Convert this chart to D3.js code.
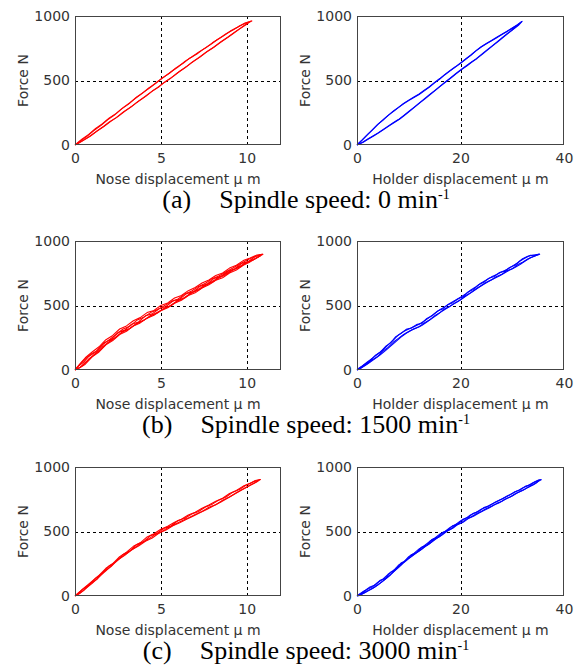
<!DOCTYPE html>
<html><head><meta charset="utf-8">
<script src="https://cdn.jsdelivr.net/npm/d3@7"></script>
<style>html,body{margin:0;padding:0;background:#fff;}svg{display:block;}</style>
</head><body><svg id="chart" width="579" height="670"></svg>
<script>
// ---- DATA ----
const noseTicks = [0, 5, 10];
const noseGrid = [5, 10];
const noseDomain = [0, 12];
const holderTicks = [0, 20, 40];
const holderGrid = [20];
const holderDomain = [0, 40];
const forceTicks = [0, 500, 1000];
const forceGrid = [500];
const forceDomain = [0, 1000];
const captionLabels = ["(a)", "(b)", "(c)"];
const captionSpeeds = ["0", "1500", "3000"];
const noseLabel = "Nose displacement \u03bc m";
const holderLabel = "Holder displacement \u03bc m";
const forceLabel = "Force N";

// Nose, 0 min-1 (two load/unload cycles) [displacement um, force N]
const noseA = [
 [[0,0],[0.3,30],[0.7,68],[1.1,112],[1.5,150],[1.9,196],[2.3,232],[2.7,278],[3.1,315],[3.5,360],[3.9,398],[4.3,442],[4.7,478],[5.1,522],[5.5,556],[5.9,600],[6.3,634],[6.7,675],[7.1,705],[7.5,745],[7.9,778],[8.3,818],[8.7,850],[9.1,888],[9.5,915],[9.9,945],[10.3,962],
  [10.1,950],[9.7,912],[9.3,875],[8.9,835],[8.5,800],[8.1,760],[7.7,725],[7.3,683],[6.9,648],[6.5,608],[6.1,572],[5.7,530],[5.3,495],[4.9,452],[4.5,418],[4.1,375],[3.7,340],[3.3,298],[2.9,262],[2.5,220],[2.1,185],[1.7,145],[1.3,110],[0.9,70],[0.5,38],[0.1,5]],
 [[0,0],[0.4,45],[0.8,82],[1.2,128],[1.6,165],[2.0,210],[2.4,245],[2.8,290],[3.2,328],[3.6,372],[4.0,410],[4.4,448],[4.8,490],[5.2,528],[5.6,568],[6.0,605],[6.4,648],[6.8,682],[7.2,720],[7.6,752],[8.0,792],[8.4,825],[8.8,862],[9.2,892],[9.6,925],[10.0,948],[10.25,960],
  [10.0,936],[9.6,900],[9.2,862],[8.8,826],[8.4,788],[8.0,750],[7.6,716],[7.2,676],[6.8,640],[6.4,598],[6.0,562],[5.6,520],[5.2,485],[4.8,445],[4.4,408],[4.0,368],[3.6,330],[3.2,290],[2.8,255],[2.4,212],[2.0,178],[1.6,138],[1.2,100],[0.8,62],[0.4,28],[0,0]]
];
// Holder, 0 min-1
const holderA = [
 [[0,0],[1,40],[2,80],[3,118],[4,158],[5,195],[6,228],[7,262],[8,292],[9,320],[10,345],[11,368],[12,392],[13,420],[14,450],[15,482],[16,512],[17,545],[18,575],[19,604],[20,633],[21,665],[22,695],[23,730],[24,760],[25,785],[26,808],[27,832],[28,856],[29,880],[30,905],[31,930],[31.8,957],
  [31,925],[30,893],[29,862],[28,830],[27,798],[26,765],[25,733],[24,700],[23,668],[22,640],[21,610],[20,581],[19,550],[18,518],[17,487],[16,455],[15,422],[14,390],[13,357],[12,325],[11,292],[10,260],[9,228],[8,197],[7,172],[6,145],[5,118],[4,92],[3,68],[2,44],[1,20],[0,0]],
 [[0,2],[1,38],[2,78],[3,120],[4,160],[5,192],[6,230],[7,260],[8,290],[9,322],[10,348],[11,372],[12,395],[13,424],[14,452],[15,485],[16,515],[17,547],[18,578],[19,606],[20,636],[21,667],[22,698],[23,732],[24,762],[25,787],[26,810],[27,835],[28,858],[29,882],[30,907],[31,932],[31.9,958],
  [31.2,928],[30.2,896],[29.2,865],[28.2,833],[27.2,800],[26.2,768],[25.2,736],[24.2,703],[23.2,671],[22.2,643],[21.2,612],[20.2,584],[19.2,553],[18.2,521],[17.2,490],[16.2,458],[15.2,425],[14.2,393],[13.2,360],[12.2,328],[11.2,295],[10.2,263],[9.2,231],[8.2,200],[7.2,175],[6.2,148],[5.2,121],[4.2,95],[3.2,70],[2.2,46],[1.2,22],[0,0]]
];
// Nose, 1500 min-1
const noseB = [
 [[0,0],[0.3,50],[0.6,95],[1.0,140],[1.4,180],[1.8,235],[2.2,268],[2.6,318],[3.0,342],[3.4,382],[3.8,406],[4.2,445],[4.6,462],[5.0,500],[5.4,520],[5.8,558],[6.2,578],[6.6,615],[7.0,640],[7.4,675],[7.8,698],[8.2,732],[8.6,752],[9.0,790],[9.4,812],[9.8,848],[10.2,868],[10.6,892],[10.95,897],
  [10.6,870],[10.2,838],[9.8,812],[9.4,775],[9.0,752],[8.6,715],[8.2,695],[7.8,660],[7.4,635],[7.0,598],[6.6,578],[6.2,540],[5.8,518],[5.4,482],[5.0,460],[4.6,425],[4.2,402],[3.8,365],[3.4,342],[3.0,300],[2.6,275],[2.2,228],[1.8,195],[1.4,140],[1.0,102],[0.6,45],[0.3,20],[0,0]],
 [[0,0],[0.2,30],[0.5,60],[0.8,105],[1.2,140],[1.6,195],[2.0,235],[2.4,275],[2.8,318],[3.2,340],[3.6,385],[4.0,408],[4.4,445],[4.8,468],[5.2,498],[5.6,530],[6.0,550],[6.4,590],[6.8,612],[7.2,648],[7.6,672],[8.0,708],[8.4,730],[8.8,762],[9.2,790],[9.6,822],[10.0,850],[10.4,875],[10.8,893],
  [10.8,885],[10.4,855],[10.0,832],[9.6,798],[9.2,775],[8.8,740],[8.4,715],[8.0,680],[7.6,655],[7.2,620],[6.8,598],[6.4,560],[6.0,538],[5.6,500],[5.2,478],[4.8,442],[4.4,422],[4.0,385],[3.6,362],[3.2,322],[2.8,300],[2.4,255],[2.0,220],[1.6,180],[1.2,125],[0.8,85],[0.4,30],[0.1,5]],
 [[0,5],[0.4,60],[0.9,122],[1.3,150],[1.7,212],[2.1,238],[2.5,290],[2.9,310],[3.3,355],[3.7,372],[4.1,420],[4.5,435],[4.9,475],[5.3,492],[5.7,535],[6.1,550],[6.5,592],[6.9,608],[7.3,650],[7.7,668],[8.1,710],[8.5,728],[8.9,765],[9.3,785],[9.7,825],[10.1,842],[10.5,880],[10.9,898],
  [10.7,878],[10.3,850],[9.9,828],[9.5,795],[9.1,770],[8.7,738],[8.3,712],[7.9,678],[7.5,652],[7.1,618],[6.7,592],[6.3,555],[5.9,532],[5.5,495],[5.1,470],[4.7,440],[4.3,410],[3.9,378],[3.5,350],[3.1,315],[2.7,290],[2.3,248],[1.9,210],[1.5,158],[1.1,118],[0.7,68],[0.3,22],[0,0]]
];
// Holder, 1500 min-1
const holderB = [
 [[0,0],[1,30],[2,62],[3,92],[4,124],[5,155],[6,195],[7,232],[8,272],[9,298],[10,318],[11,335],[12,355],[13,380],[14,408],[15,438],[16,468],[17,490],[18,518],[19,540],[20,565],[21,590],[22,620],[23,645],[24,675],[25,698],[26,722],[27,740],[28,762],[29,780],[30,805],[31,830],[32,862],[33,882],[34,890],[35.3,898],
  [34.5,885],[33.5,870],[32.5,845],[31.5,818],[30.5,795],[29.5,775],[28.5,752],[27.5,728],[26.5,710],[25.5,688],[24.5,665],[23.5,640],[22.5,612],[21.5,585],[20.5,558],[19.5,530],[18.5,508],[17.5,482],[16.5,458],[15.5,428],[14.5,400],[13.5,372],[12.5,345],[11.5,325],[10.5,308],[9.5,285],[8.5,255],[7.5,220],[6.5,185],[5.5,150],[4.5,118],[3.5,88],[2.5,60],[1.5,32],[0.5,8],[0,0]],
 [[0,5],[1.5,45],[2.5,72],[3.5,112],[4.5,138],[5.5,182],[6.5,210],[7.5,258],[8.5,282],[9.5,315],[10.5,325],[11.5,352],[12.5,362],[13.5,400],[14.5,420],[15.5,455],[16.5,472],[17.5,505],[18.5,522],[19.5,550],[20.5,570],[21.5,605],[22.5,625],[23.5,660],[24.5,680],[25.5,712],[26.5,725],[27.5,755],[28.5,765],[29.5,795],[30.5,812],[31.5,845],[32.5,868],[33.5,890],[34.5,892],[35.2,897],
  [34,878],[33,860],[32,835],[31,815],[30,785],[29,770],[28,742],[27,725],[26,700],[25,680],[24,655],[23,628],[22,600],[21,575],[20,545],[19,522],[18,495],[17,475],[16,445],[15,420],[14,388],[13,365],[12,335],[11,320],[10,298],[9,275],[8,245],[7,215],[6,175],[5,145],[4,105],[3,80],[2,48],[1,22],[0,0]]
];
// Nose, 3000 min-1
const noseC = [
 [[0,0],[0.3,35],[0.6,70],[1.0,115],[1.4,160],[1.8,215],[2.2,250],[2.6,305],[3.0,340],[3.4,385],[3.8,412],[4.2,458],[4.6,482],[5.0,518],[5.4,540],[5.8,572],[6.2,595],[6.6,628],[7.0,650],[7.4,680],[7.8,705],[8.2,735],[8.6,758],[9.0,795],[9.4,818],[9.8,852],[10.2,872],[10.5,895],[10.8,903],
  [10.5,880],[10.1,850],[9.7,822],[9.3,790],[8.9,760],[8.5,728],[8.1,702],[7.7,672],[7.3,648],[6.9,620],[6.5,595],[6.1,568],[5.7,545],[5.3,512],[4.9,488],[4.5,450],[4.1,425],[3.7,388],[3.3,358],[2.9,315],[2.5,282],[2.1,228],[1.7,190],[1.3,132],[0.9,95],[0.5,42],[0.2,15],[0,0]],
 [[0,0],[0.4,48],[0.8,85],[1.2,138],[1.6,178],[2.0,235],[2.4,268],[2.8,322],[3.2,350],[3.6,400],[4.0,422],[4.4,468],[4.8,488],[5.2,525],[5.6,545],[6.0,585],[6.4,602],[6.8,635],[7.2,655],[7.6,690],[8.0,712],[8.4,745],[8.8,768],[9.2,805],[9.6,828],[10.0,862],[10.4,885],[10.75,902],
  [10.6,885],[10.2,858],[9.8,830],[9.4,800],[9.0,768],[8.6,742],[8.2,708],[7.8,688],[7.4,655],[7.0,632],[6.6,605],[6.2,582],[5.8,555],[5.4,528],[5.0,495],[4.6,470],[4.2,435],[3.8,405],[3.4,365],[3.0,330],[2.6,288],[2.2,245],[1.8,195],[1.4,148],[1.0,98],[0.6,55],[0.3,22],[0,0]]
];
// Holder, 3000 min-1
const holderC = [
 [[0,0],[1,25],[2,52],[3,72],[4,105],[5,130],[6,168],[7,195],[8,238],[9,262],[10,305],[11,330],[12,365],[13,390],[14,422],[15,448],[16,480],[17,500],[18,532],[19,552],[20,582],[21,602],[22,630],[23,648],[24,672],[25,690],[26,712],[27,732],[28,752],[29,775],[30,795],[31,815],[32,838],[33,855],[34,878],[35,898],[35.6,902],
  [35,890],[34,860],[33,842],[32,818],[31,800],[30,775],[29,758],[28,735],[27,718],[26,695],[25,678],[24,655],[23,635],[22,612],[21,592],[20,565],[19,545],[18,515],[17,495],[16,462],[15,440],[14,405],[13,380],[12,348],[11,322],[10,290],[9,258],[8,220],[7,185],[6,148],[5,115],[4,85],[3,58],[2,38],[1,15],[0,0]],
 [[0,3],[1.5,42],[2.5,70],[3.5,85],[4.5,122],[5.5,138],[6.5,185],[7.5,210],[8.5,255],[9.5,275],[10.5,320],[11.5,338],[12.5,378],[13.5,398],[14.5,438],[15.5,455],[16.5,492],[17.5,508],[18.5,545],[19.5,560],[20.5,595],[21.5,610],[22.5,642],[23.5,655],[24.5,685],[25.5,698],[26.5,722],[27.5,742],[28.5,762],[29.5,782],[30.5,808],[31.5,822],[32.5,850],[33.5,862],[34.5,888],[35.4,900],
  [34.5,872],[33.5,852],[32.5,830],[31.5,810],[30.5,790],[29.5,765],[28.5,748],[27.5,722],[26.5,705],[25.5,682],[24.5,662],[23.5,642],[22.5,618],[21.5,600],[20.5,572],[19.5,555],[18.5,525],[17.5,505],[16.5,475],[15.5,450],[14.5,420],[13.5,392],[12.5,362],[11.5,335],[10.5,305],[9.5,278],[8.5,240],[7.5,205],[6.5,165],[5.5,132],[4.5,100],[3.5,72],[2.5,48],[1.5,25],[0.5,5],[0,0]]
];

// ---- LAYOUT ----
const svg = d3.select("#chart");
const rowTops = [16, 241, 467];
const plotH = 129;
const cols = [
  {x0: 75, w: 206, domain: noseDomain, ticks: noseTicks, grid: noseGrid, label: noseLabel, color: "#ff0000"},
  {x0: 357, w: 207, domain: holderDomain, ticks: holderTicks, grid: holderGrid, label: holderLabel, color: "#0000ff"}
];
const rowData = [[noseA, holderA], [noseB, holderB], [noseC, holderC]];
const sans = "'DejaVu Sans', sans-serif";
const textCol = "#333";

rowTops.forEach((top, ri) => {
  cols.forEach((c, ci) => {
    const x = d3.scaleLinear().domain(c.domain).range([c.x0, c.x0 + c.w]);
    const y = d3.scaleLinear().domain(forceDomain).range([top + plotH, top]);
    const g = svg.append("g");

    // grid
    g.selectAll(".gx").data(c.grid).enter().append("line")
      .attr("x1", d => Math.round(x(d)) + 0.5).attr("x2", d => Math.round(x(d)) + 0.5)
      .attr("y1", top).attr("y2", top + plotH)
      .attr("stroke", "#000").attr("stroke-width", 1).attr("stroke-dasharray", "3,3");
    g.selectAll(".gy").data(forceGrid).enter().append("line")
      .attr("y1", d => Math.round(y(d)) + 0.5).attr("y2", d => Math.round(y(d)) + 0.5)
      .attr("x1", c.x0).attr("x2", c.x0 + c.w)
      .attr("stroke", "#000").attr("stroke-width", 1).attr("stroke-dasharray", "3,3");

    // data lines
    const line = d3.line().x(d => x(d[0])).y(d => y(d[1]));
    g.selectAll(".cyc").data(rowData[ri][ci]).enter().append("path")
      .attr("d", line).attr("fill", "none").attr("stroke", c.color)
      .attr("stroke-width", 1.1).attr("stroke-linejoin", "round");

    // frame
    g.append("rect").attr("x", c.x0 + 0.5).attr("y", top + 0.5)
      .attr("width", c.w - 1).attr("height", plotH - 1)
      .attr("fill", "none").attr("stroke", "#444").attr("stroke-width", 1);

    // axes
    const xa = g.append("g").attr("transform", `translate(0,${top + plotH})`)
      .call(d3.axisBottom(x).tickValues(c.ticks).tickSize(0).tickPadding(8).tickFormat(d3.format("d")));
    xa.select(".domain").remove();
    xa.selectAll("text").attr("font-family", sans).attr("font-size", 14).attr("fill", textCol);

    const ya = g.append("g").attr("transform", `translate(${c.x0},0)`)
      .call(d3.axisLeft(y).tickValues(forceTicks).tickSize(0).tickPadding(5).tickFormat(d3.format("d")));
    ya.select(".domain").remove();
    ya.selectAll("text").attr("font-family", sans).attr("font-size", 14).attr("fill", textCol);

    // axis labels
    g.append("text").attr("x", c.x0 + c.w / 2).attr("y", top + plotH + 39)
      .attr("text-anchor", "middle").attr("font-family", sans).attr("font-size", 14)
      .attr("fill", textCol).text(c.label);
    g.append("text").attr("transform", `translate(${c.x0 - 47},${top + plotH / 2}) rotate(-90)`)
      .attr("text-anchor", "middle").attr("font-family", sans).attr("font-size", 14)
      .attr("fill", textCol).text(forceLabel);
  });

  // caption
  const cap = svg.append("text").attr("x", 306).attr("y", top + 192)
    .attr("text-anchor", "middle").attr("font-family", "'Liberation Serif', 'Times New Roman', serif")
    .attr("font-size", 26).attr("fill", "#000");
  cap.append("tspan").text(captionLabels[ri]);
  cap.append("tspan").attr("dx", 28).text("Spindle speed: " + captionSpeeds[ri] + " min");
  cap.append("tspan").attr("dy", -9).attr("font-size", 14).text("-1");
});
</script></body></html>
